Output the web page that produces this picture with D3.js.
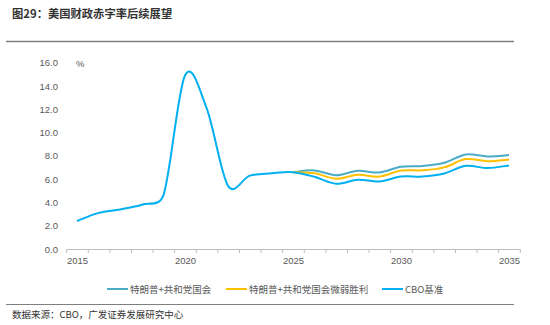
<!DOCTYPE html>
<html>
<head>
<meta charset="utf-8">
<script src="https://cdn.jsdelivr.net/npm/d3@7"></script>
<style>
  html, body { margin: 0; padding: 0; background: #fff; }
  svg { display: block; }
</style>
</head>
<body>
<svg id="chart" width="550" height="325"></svg>
<script>
const title = "图29：美国财政赤字率后续展望";
const source = "数据来源：CBO，广发证券发展研究中心";
const years = d3.range(2015, 2036);
const xTickLabels = [2015, 2020, 2025, 2030, 2035];
const yTicks = [0, 2, 4, 6, 8, 10, 12, 14, 16];
const seriesNames = ["特朗普+共和党国会", "特朗普+共和党国会微弱胜利", "CBO基准"];
const seriesColors = ["#4BACC6", "#FFC000", "#00B0F0"];

// 2015-2035
const cboBase = [2.4, 3.1, 3.4, 3.8, 4.6, 14.9, 12.1, 5.4, 6.3, 6.5, 6.6,
                 6.2, 5.6, 5.95, 5.8, 6.22, 6.22, 6.48, 7.14, 6.95, 7.17];
// 2025-2035
const projYears = d3.range(2025, 2036);
const trumpGop = [6.6, 6.75, 6.34, 6.72, 6.57, 7.06, 7.12, 7.4, 8.12, 7.95, 8.07];
const trumpGopNarrow = [6.6, 6.5, 6.03, 6.37, 6.22, 6.74, 6.76, 7.01, 7.72, 7.54, 7.68];

// Excel-like smoothing: Catmull-Rom handles, capped relative to the adjacent segment
function excelSmooth(context) {
  return {
    _pts: [],
    areaStart() {}, areaEnd() {},
    lineStart() { this._pts = []; },
    point(x, y) { this._pts.push([+x, +y]); },
    lineEnd() {
      const p = this._pts, n = p.length;
      if (!n) return;
      context.moveTo(p[0][0], p[0][1]);
      if (n === 1) return;
      const dist = (a, b) => Math.hypot(b[0] - a[0], b[1] - a[1]);
      const cap = (h, seg) => {
        const L = Math.hypot(h[0], h[1]), m = 0.5 * seg;
        return L > m && L > 0 ? [h[0] * m / L, h[1] * m / L] : h;
      };
      const handles = p.map((pt, i) => {
        const prev = p[Math.max(0, i - 1)], next = p[Math.min(n - 1, i + 1)];
        const h = [(next[0] - prev[0]) / 6, (next[1] - prev[1]) / 6];
        return { inn: cap(h, dist(prev, pt)), out: cap(h, dist(pt, next)) };
      });
      for (let i = 0; i < n - 1; i++) {
        const a = p[i], b = p[i + 1];
        const c1 = [a[0] + handles[i].out[0], a[1] + handles[i].out[1]];
        const c2 = [b[0] - handles[i + 1].inn[0], b[1] - handles[i + 1].inn[1]];
        context.bezierCurveTo(c1[0], c1[1], c2[0], c2[1], b[0], b[1]);
      }
    }
  };
}

const svg = d3.select("#chart");

// frame lines
svg.append("line").attr("x1", 6).attr("x2", 514).attr("y1", 41.5).attr("y2", 41.5)
  .attr("stroke", "#7f7f7f").attr("stroke-width", 1.5);
svg.append("line").attr("x1", 6).attr("x2", 514).attr("y1", 304.5).attr("y2", 304.5)
  .attr("stroke", "#7f7f7f").attr("stroke-width", 1.2);

svg.append("text").attr("x", 12).attr("y", 17.5)
  .attr("font-family", "'Noto Sans CJK SC', sans-serif").attr("font-size", 11.3)
  .attr("font-weight", "bold").attr("fill", "#333").text(title);

svg.append("text").attr("x", 12).attr("y", 318)
  .attr("font-family", "'Noto Sans CJK SC', sans-serif").attr("font-size", 9.5)
  .attr("fill", "#333").text(source);

const x = d3.scaleLinear().domain([2014.5, 2035.5]).range([66.2, 519.8]);
const y = d3.scaleLinear().domain([0, 16]).range([249, 62.7]);

// x axis line + boundary ticks
const xAxisTicks = d3.axisBottom(x)
  .tickValues(d3.range(2014.5, 2036, 1))
  .tickSize(4).tickSizeOuter(0).tickFormat("");
const gx = svg.append("g").attr("transform", "translate(0,249)").call(xAxisTicks);
gx.selectAll("path, line").attr("stroke", "#bfbfbf");

const xAxisLabels = d3.axisBottom(x).tickValues(xTickLabels).tickSize(0).tickPadding(8)
  .tickFormat(d3.format("d"));
const gxl = svg.append("g").attr("transform", "translate(0,249)").call(xAxisLabels);
gxl.select(".domain").remove();
gxl.selectAll("text").attr("font-family", "'Liberation Sans', Arial, sans-serif")
  .attr("font-size", 9.5).attr("fill", "#595959");

// y axis labels
const yAxis = d3.axisLeft(y).tickValues(yTicks).tickSize(0).tickPadding(0)
  .tickFormat(d3.format(".1f"));
const gy = svg.append("g").attr("transform", "translate(58,0)").call(yAxis);
gy.select(".domain").remove();
gy.selectAll("text").attr("font-family", "'Liberation Sans', Arial, sans-serif")
  .attr("font-size", 9.5).attr("fill", "#595959");

svg.append("text").attr("x", 76).attr("y", 66.5)
  .attr("font-family", "'Liberation Sans', Arial, sans-serif")
  .attr("font-size", 9.5).attr("fill", "#595959").text("%");

const line = d3.line().x(d => x(d[0])).y(d => y(d[1])).curve(excelSmooth);

const series = [
  projYears.map((yr, i) => [yr, trumpGop[i]]),
  projYears.map((yr, i) => [yr, trumpGopNarrow[i]]),
  years.map((yr, i) => [yr, cboBase[i]])
];
series.forEach((s, i) => {
  svg.append("path").datum(s).attr("d", line).attr("fill", "none")
    .attr("stroke", seriesColors[i]).attr("stroke-width", 2);
});

// legend
const legendX = [107, 226, 382];
const legend = svg.append("g");
seriesNames.forEach((name, i) => {
  legend.append("line").attr("x1", legendX[i]).attr("x2", legendX[i] + 21)
    .attr("y1", 289).attr("y2", 289).attr("stroke", seriesColors[i]).attr("stroke-width", 2);
  legend.append("text").attr("x", legendX[i] + 23).attr("y", 292.5)
    .attr("font-family", "'Noto Sans CJK SC', sans-serif").attr("font-size", 9.5)
    .attr("fill", "#595959").text(name);
});
</script>
</body>
</html>
